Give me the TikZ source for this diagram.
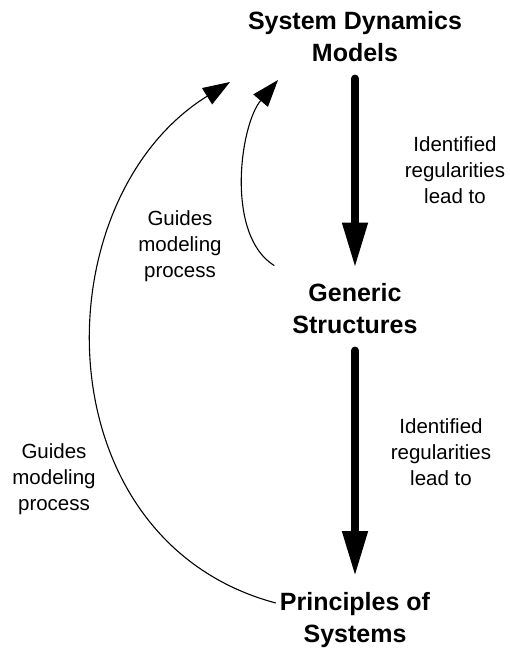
\documentclass[tikz,border=0pt]{standalone}
\usepackage{fontspec}
\setmainfont{Liberation Sans}
\usetikzlibrary{arrows.meta}
\begin{document}
\begin{tikzpicture}[x=1pt,y=-1pt,
  concept/.style={font=\fontsize{25}{32}\selectfont\bfseries, align=center,
                  inner xsep=4pt, inner ysep=16pt},
  note/.style={font=\fontsize{20.5}{26}\selectfont, align=center, inner sep=0pt},
  leadsto/.style={line width=7.5pt, line cap=round,
                  -{Triangle[length=45pt,width=24pt]}},
  guides/.style={line width=1.1pt, -{Triangle[length=27pt,width=19pt]}}]
\useasboundingbox (0,0) rectangle (509,648);

% the three levels
\node[concept] (sdm) at (355,37)  {System Dynamics\\Models};
\node[concept] (gen) at (355,309) {Generic\\Structures};
\node[concept] (pri) at (355,620) {Principles of\\Systems};

% downward links
\draw[leadsto] (sdm) -- (gen);
\draw[leadsto] (gen) -- (pri);

% their captions
\node[note] (lab1) at (455,170) {Identified\\regularities\\lead to};
\node[note] (lab2) at (441,452) {Identified\\regularities\\lead to};

% feedback arcs back to the models
\coordinate (tipA) at (278,80);
\coordinate (tipB) at (230,82);
\draw[guides] ([xshift=-14pt,yshift=2pt]gen.north west)
  .. controls (225,235) and (240,125) .. (tipA);
\draw[guides] ([yshift=17pt]pri.west)
  .. controls (40,540) and (40,200) .. (tipB);

\node[note] (lab3) at (180,246) {Guides\\modeling\\process};
\node[note] (lab4) at (54,479)  {Guides\\modeling\\process};
\end{tikzpicture}
\end{document}
